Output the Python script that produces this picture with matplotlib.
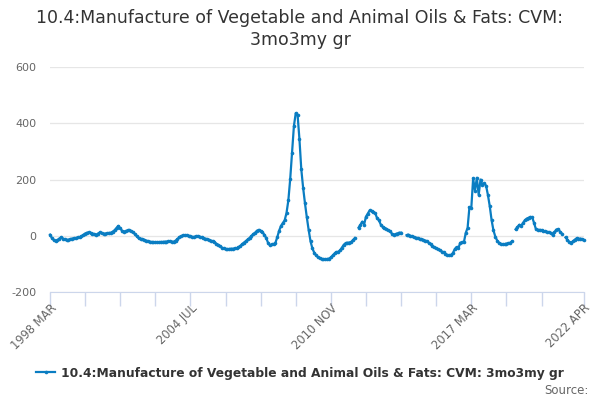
import numpy as np
import pandas as pd
import matplotlib
matplotlib.use("Agg")
import matplotlib.pyplot as plt

nan = np.nan
start_period = "1998-03"
n_months = 290
months = pd.period_range(start_period, periods=n_months, freq="M")
categories = [f"{p.year} {p.strftime('%b').upper()}" for p in months]

values = [
    4, -8, -15, -19, -16, -10, -6, -10, -13, -15,
    -14, -12, -10, -9, -8, -6, -5, -2, 3, 8,
    11, 12, 10, 8, 6, 4, 8, 12, 9, 7,
    8, 9, 10, 11, 15, 20, 28, 35, 26, 18,
    15, 17, 19, 19, 17, 12, 6, -2, -9, -11,
    -12, -14, -17, -19, -21, -22, -23, -23, -23, -23,
    -22, -22, -21, -21, -20, -20, -21, -21, -17, -12,
    -5, -1, 1, 2, 1, 0, -2, -4, -4, -2,
    -1, -3, -6, -8, -10, -12, -14, -17, -19, -23,
    -28, -32, -37, -42, -45, -47, -48, -47, -46, -46,
    -45, -45, -41, -36, -30, -24, -19, -13, -8, -1,
    6, 11, 18, 21, 17, 12, 4, -8, -25, -34,
    -31, -30, -25, -5, 18, 35, 45, 55, 81, 126,
    202, 295, 390, 436, 429, 343, 236, 170, 115, 65,
    20, -20, -45, -60, -70, -76, -80, -82, -84, -84,
    -83, -81, -77, -70, -63, -58, -57, -52, -42, -32,
    -26, -25, -24, -22, -15, -8, nan, 29, 39, 50,
    40, 68, 79, 90, 88, 85, 80, 63, 55, 40,
    32, 28, 25, 20, 16, 8, 4, 6, 8, 11,
    11, nan, nan, 2, 4, 0, -2, -5, -7, -8,
    -11, -13, -14, -17, -19, -25, -30, -37, -41, -44,
    -48, -52, -56, -58, -65, -68, -70, -68, -62, -48,
    -40, -45, -25, -23, -23, 10, 28, 102, 98, 204,
    160, 206, 145, 200, 182, 186, 178, 145, 105, 55,
    19, -3, -17, -25, -29, -30, -30, -28, -27, -25,
    -20, nan, 23, 31, 39, 35, 46, 55, 61, 64,
    67, 65, 45, 23, 21, 21, 20, 17, 16, 14,
    13, 10, 3, 12, 22, 24, 15, 8, nan, -6,
    -14, -22, -24, -20, -14, -9, -11, -10, -12, -15,
]

title = "10.4:Manufacture of Vegetable and Animal Oils & Fats: CVM:\n3mo3my gr"
series_name = "10.4:Manufacture of Vegetable and Animal Oils & Fats: CVM: 3mo3my gr"
tick_labels = ["1998 MAR", "2004 JUL", "2010 NOV", "2017 MAR", "2022 APR"]
y_ticks = [-200, 0, 200, 400, 600]

plt.rcParams["font.family"] = ["DejaVu Sans"]

fig = plt.figure(figsize=(6, 4), dpi=100)
ax = fig.add_axes([50 / 600, 1 - 292 / 400, 534 / 600, 225 / 400])

x = np.arange(len(categories))
y = np.array(values, dtype=float)
line_color = "#0a7dc2"
ax.plot(x, y, color=line_color, linewidth=1.6, marker="o", markersize=2.6,
        markeredgewidth=0, label=series_name, zorder=3, clip_on=False)

ax.set_xlim(0, len(categories) - 1)
ax.set_ylim(-200, 600)
ax.set_yticks(y_ticks)
ax.set_yticklabels([str(v) for v in y_ticks])
ax.grid(axis="y", color="#e6e6e6", linewidth=0.9)
ax.set_axisbelow(True)

label_pos = [categories.index(t) for t in tick_labels]
minor_pos = list(range(0, len(categories) - 19, 19)) + [len(categories) - 1]
ax.set_xticks(minor_pos, minor=True)
ax.set_xticks(label_pos)
ax.set_xticklabels(tick_labels)

for side in ["top", "right", "left"]:
    ax.spines[side].set_visible(False)
ax.spines["bottom"].set_color("#ccd6eb")
ax.tick_params(axis="x", which="both", length=10, color="#ccd6eb", width=1,
               labelsize=8.3, labelcolor="#666666", pad=-3)
ax.tick_params(axis="y", length=0, labelsize=8, labelcolor="#666666", pad=10)
for lbl in ax.get_xticklabels():
    lbl.set_rotation(45)
    lbl.set_ha("right")
    lbl.set_va("top")
    lbl.set_rotation_mode("anchor")

fig.text(0.5, 1 - 29 / 400, title, ha="center", va="center",
         fontsize=12.5, color="#333333", linespacing=1.35)

leg = fig.legend(loc="center", bbox_to_anchor=(0.5, 1 - 373 / 400), frameon=False,
                 prop={"weight": "bold", "size": 8.8}, handlelength=1.5,
                 handletextpad=0.5, labelcolor="#333333")

fig.text(589 / 600, 1 - 390 / 400, "Source:", ha="right", va="center",
         fontsize=8.5, color="#666666")

fig.savefig("out.png", dpi=100)
